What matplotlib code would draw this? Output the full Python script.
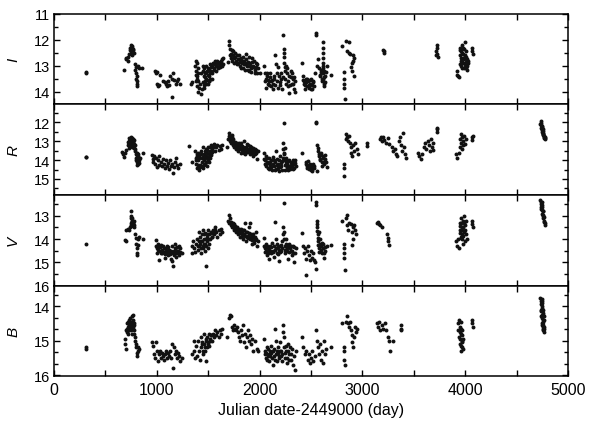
import numpy as np
import matplotlib
matplotlib.use("Agg")
import matplotlib.pyplot as plt
from matplotlib.ticker import MultipleLocator

plt.rcParams['font.family'] = ['Liberation Sans', 'DejaVu Sans']

# (JD-2449000, magnitude) pairs
I_data = [
    (310, 13.25), (315, 13.3),
    (683, 13.15), (700, 12.75), (705, 12.7), (715, 12.8), (720, 12.65), (730, 12.55), (735, 12.4), (740, 12.3),
    (745, 12.2), (750, 12.45), (755, 12.3), (760, 12.25), (765, 12.35), (770, 12.4), (775, 12.5), (760, 12.6), (748, 12.55),
    (790, 12.95), (795, 13.05), (800, 13.3), (800, 13.5), (805, 13.7), (805, 13.8), (810, 13.4), (812, 13.6), (790, 13.15),
    (820, 13.0), (830, 13.1), (855, 13.1),
    (985, 13.2), (990, 13.3), (1000, 13.25), (1005, 13.7), (1010, 13.8), (1020, 13.75), (1035, 13.35), (1060, 13.6),
    (1075, 13.65), (1090, 13.7), (1100, 13.8), (1110, 13.6), (1120, 13.75), (1125, 13.4), (1150, 14.2), (1145, 13.5),
    (1160, 13.3), (1170, 13.55), (1185, 13.7), (1200, 13.6), (1210, 13.5), (1225, 13.7),
    (1340, 13.65), (1330, 13.7), (1375, 13.0), (1380, 12.8), (1385, 13.2), (1390, 13.4), (1395, 13.5), (1400, 13.1),
    (1405, 13.6), (1410, 13.85), (1420, 13.7), (1425, 14.1), (1430, 13.3), (1440, 13.9), (1445, 13.0), (1450, 13.2),
    (1455, 13.4), (1460, 13.1), (1465, 13.6), (1470, 13.3), (1475, 13.0), (1480, 13.5), (1490, 13.2), (1495, 13.7),
    (1500, 13.1), (1505, 13.4), (1510, 13.6), (1515, 13.3), (1520, 12.95), (1525, 13.2), (1535, 13.5), (1540, 13.0),
    (1550, 12.9), (1560, 13.1), (1570, 12.8), (1580, 13.0), (1590, 12.9), (1600, 13.05), (1610, 12.85), (1620, 12.9),
    (1630, 12.75), (1640, 12.95), (1645, 12.7),
    (1448, 13.65), (1458, 13.75), (1468, 13.45), (1478, 13.25), (1488, 13.55), (1498, 13.35), (1508, 13.15),
    (1518, 13.5), (1528, 13.05), (1538, 13.3), (1463, 13.85), (1483, 13.7), (1503, 13.6),
    (1378, 13.35), (1382, 13.6), (1388, 13.8), (1392, 12.9), (1398, 14.0), (1402, 13.3),
    (1555, 13.15), (1565, 12.95), (1575, 13.2), (1585, 12.8), (1595, 13.1), (1605, 12.95), (1615, 13.05),
    (1625, 12.8), (1635, 13.0),
    (1690, 12.85), (1700, 12.05), (1705, 12.2), (1710, 12.6), (1720, 12.55), (1730, 12.4), (1740, 12.6), (1750, 12.7),
    (1760, 12.5), (1770, 12.8), (1780, 12.6), (1790, 12.9), (1800, 12.75), (1810, 13.0), (1820, 12.7), (1830, 12.9),
    (1840, 13.1), (1850, 12.8), (1860, 12.95), (1870, 12.55), (1880, 13.0), (1890, 12.85), (1900, 13.2), (1910, 12.9),
    (1920, 13.1), (1930, 12.7), (1940, 13.0), (1950, 13.15), (1960, 12.9), (1970, 13.3), (1985, 13.1), (2000, 13.3),
    (1715, 12.35), (1725, 12.7), (1735, 12.8), (1745, 12.45), (1755, 12.9), (1765, 12.65), (1775, 12.95),
    (1785, 12.75), (1795, 12.6), (1805, 12.85), (1815, 13.1), (1825, 12.8), (1835, 12.65), (1845, 12.95),
    (1855, 13.15), (1865, 12.75), (1875, 12.9), (1885, 13.15), (1895, 12.65), (1905, 13.0), (1915, 13.25),
    (1925, 12.85), (1935, 13.05), (1945, 12.8), (1955, 13.3), (1965, 13.05), (1975, 12.95),
    (2040, 13.0), (2050, 13.3), (2060, 13.5), (2070, 13.4), (2080, 13.7), (2090, 13.6), (2100, 13.45), (2110, 13.8),
    (2120, 13.55), (2130, 13.7), (2140, 13.4), (2150, 12.6), (2160, 12.95), (2165, 13.3), (2170, 13.6), (2175, 13.05),
    (2180, 13.85), (2190, 13.4), (2200, 13.65), (2210, 13.5), (2230, 11.8), (2232, 12.35), (2235, 12.5), (2240, 12.9),
    (2245, 13.2), (2250, 13.5), (2255, 13.0), (2260, 13.7), (2265, 13.3), (2270, 13.1), (2280, 13.6), (2285, 14.05),
    (2290, 13.4), (2300, 13.2), (2310, 13.7), (2320, 13.5), (2330, 13.9), (2340, 13.6), (2345, 14.0),
    (2055, 13.6), (2065, 13.85), (2075, 13.3), (2085, 13.55), (2095, 13.75), (2105, 13.3), (2115, 13.6),
    (2125, 13.9), (2135, 13.5), (2145, 13.75), (2195, 13.75), (2205, 13.3), (2215, 13.9), (2225, 13.45),
    (2275, 13.8), (2295, 13.75), (2305, 13.45), (2315, 13.3), (2325, 13.7), (2335, 13.45), (2238, 12.65), (2242, 13.05),
    (2415, 12.9), (2420, 13.4), (2430, 13.6), (2440, 13.75), (2450, 13.5), (2460, 13.8), (2470, 13.6), (2480, 13.85),
    (2490, 13.7), (2500, 13.5), (2510, 13.9), (2520, 13.65), (2540, 13.3), (2545, 11.75), (2550, 11.8), (2560, 13.0),
    (2570, 12.75), (2580, 13.1), (2590, 13.4), (2600, 13.25), (2610, 13.6), (2615, 12.1), (2615, 12.3), (2615, 12.5),
    (2615, 12.7), (2618, 12.9), (2620, 13.1), (2620, 13.3), (2620, 13.5), (2622, 13.7), (2625, 13.8), (2630, 13.2),
    (2640, 13.4), (2650, 13.0), (2690, 13.35),
    (2425, 13.55), (2435, 13.7), (2445, 13.9), (2455, 13.65), (2465, 13.5), (2475, 13.75), (2485, 13.55),
    (2495, 13.9), (2505, 13.75), (2515, 13.6), (2525, 13.8),
    (2585, 13.35), (2595, 13.15), (2605, 13.5), (2612, 13.0), (2628, 13.45), (2635, 13.65), (2645, 13.25),
    (2800, 12.25), (2825, 13.25), (2825, 13.5), (2825, 13.7), (2825, 13.85), (2828, 14.3), (2835, 12.05), (2850, 12.45),
    (2865, 12.1), (2870, 12.5), (2880, 12.55), (2885, 13.05), (2895, 13.2), (2900, 12.9), (2905, 12.6), (2910, 12.8),
    (2915, 13.4), (2920, 12.7),
    (3200, 12.4), (3205, 12.5), (3210, 12.45),
    (3710, 12.6), (3715, 12.45), (3720, 12.3), (3725, 12.2), (3728, 12.55), (3732, 12.65),
    (3915, 13.2), (3920, 13.35), (3930, 13.4), (3940, 13.45), (3945, 12.4), (3950, 12.6), (3955, 12.8), (3960, 13.0),
    (3965, 12.5), (3970, 12.2), (3975, 12.7), (3980, 12.9), (3985, 13.1), (3990, 12.35), (3995, 12.1), (4000, 12.6),
    (4005, 12.85), (4010, 13.1), (4015, 12.75), (4020, 13.0), (4025, 12.9), (4060, 12.3), (4065, 12.45), (4070, 12.55),
    (3948, 12.3), (3952, 12.95), (3958, 12.45), (3962, 12.7), (3968, 13.1), (3972, 12.85), (3978, 12.3),
    (3982, 12.55), (3988, 12.75), (3992, 13.05), (3998, 12.95), (4002, 12.45), (4008, 12.65), (4012, 12.95),
    (4018, 13.15), (4022, 12.8),
]

R_data = [
    (312, 13.82), (316, 13.85),
    (665, 13.55), (675, 13.7), (685, 13.85), (695, 13.6), (705, 13.45), (720, 13.2), (725, 13.0), (730, 13.35),
    (735, 12.9), (740, 13.1), (745, 12.8), (750, 13.0), (755, 13.2), (760, 12.85), (765, 13.05), (770, 13.3),
    (775, 12.95), (780, 13.15), (785, 13.4), (790, 13.5), (795, 13.7), (800, 13.9), (805, 14.1), (810, 13.6),
    (815, 14.2), (820, 13.8), (825, 14.0), (835, 13.9), (865, 13.6),
    (722, 13.05), (728, 12.85), (732, 13.1), (738, 13.25), (742, 12.95), (748, 13.15), (752, 12.85), (758, 13.05),
    (762, 13.3), (768, 13.1), (772, 12.9), (778, 13.35), (783, 13.2),
    (798, 14.0), (803, 13.75), (808, 14.25), (812, 13.9), (818, 13.65), (822, 14.15),
    (955, 13.75), (960, 13.95), (965, 14.1), (975, 13.8), (985, 14.2), (990, 13.9), (1000, 14.35), (1010, 14.0),
    (1020, 13.8), (1025, 14.25), (1040, 14.1), (1050, 14.3), (1060, 13.95), (1070, 14.2), (1080, 14.4), (1090, 14.0),
    (1100, 14.3), (1110, 14.15), (1120, 14.45), (1130, 14.0), (1140, 14.3), (1150, 14.2), (1160, 14.7), (1170, 14.35),
    (1180, 14.1), (1190, 13.9), (1200, 14.25), (1210, 14.4), (1225, 14.2),
    (1310, 13.25), (1340, 14.1), (1375, 13.5), (1380, 13.9), (1385, 14.2), (1390, 13.7), (1395, 14.4), (1400, 13.6),
    (1405, 14.0), (1410, 14.55), (1415, 13.8), (1420, 14.25), (1430, 13.5), (1435, 14.1), (1440, 13.9), (1445, 14.4),
    (1450, 13.3), (1455, 13.7), (1460, 14.0), (1465, 13.5), (1470, 14.2), (1475, 13.8), (1480, 13.4), (1485, 14.3),
    (1490, 13.6), (1495, 13.9), (1500, 13.3), (1505, 14.1), (1510, 13.7), (1515, 13.5), (1520, 13.9), (1525, 13.2),
    (1530, 13.6), (1540, 13.4), (1550, 13.3), (1560, 13.15), (1570, 13.5), (1580, 13.3), (1590, 13.2), (1600, 13.45),
    (1610, 13.25), (1620, 13.4), (1630, 13.2),
    (1378, 14.0), (1388, 13.8), (1398, 14.25), (1408, 13.9), (1418, 14.35), (1428, 13.7), (1438, 14.3),
    (1448, 13.85), (1458, 14.25), (1468, 13.9), (1478, 14.1), (1488, 13.45), (1498, 14.0), (1508, 13.85),
    (1518, 13.3), (1528, 13.75), (1538, 13.55),
    (1680, 13.3), (1695, 12.9), (1700, 12.7), (1705, 12.55), (1710, 13.0), (1715, 12.75), (1720, 13.1), (1725, 12.85),
    (1730, 12.65), (1735, 13.0), (1740, 13.2), (1745, 12.9), (1750, 13.3), (1760, 13.05), (1770, 13.4), (1780, 13.2),
    (1790, 13.5), (1800, 13.1), (1810, 13.35), (1820, 13.6), (1830, 13.25), (1840, 13.45), (1850, 13.0), (1860, 13.7),
    (1870, 13.3), (1880, 13.55), (1890, 13.2), (1900, 13.4), (1910, 13.65), (1920, 13.3), (1930, 13.5), (1940, 13.8),
    (1950, 13.4), (1960, 13.6), (1970, 13.95), (1980, 13.5),
    (1712, 12.85), (1722, 12.95), (1732, 12.8), (1742, 13.05), (1755, 13.15), (1765, 13.25), (1775, 13.1),
    (1785, 13.3), (1795, 13.4), (1805, 13.25), (1815, 13.1), (1825, 13.45), (1835, 13.3), (1845, 13.6),
    (1855, 13.35), (1865, 13.5), (1875, 13.15), (1885, 13.4), (1895, 13.55), (1905, 13.25), (1915, 13.45),
    (1925, 13.6), (1935, 13.35), (1945, 13.55), (1955, 13.7), (1965, 13.45),
    (2040, 13.6), (2045, 13.95), (2050, 14.2), (2060, 13.8), (2070, 14.1), (2080, 14.4), (2090, 13.9), (2100, 14.25),
    (2110, 14.0), (2120, 14.5), (2130, 13.85), (2140, 14.3), (2150, 14.1), (2155, 13.5), (2160, 14.45), (2170, 13.95),
    (2180, 14.2), (2190, 14.6), (2200, 13.8), (2210, 14.3), (2220, 14.05), (2225, 13.4), (2230, 13.1), (2235, 13.7),
    (2240, 12.05), (2245, 14.0), (2250, 14.5), (2260, 13.9), (2270, 14.2), (2280, 14.55), (2290, 14.0), (2300, 14.3),
    (2310, 14.1), (2320, 14.45), (2330, 14.2), (2340, 14.0), (2350, 14.3),
    (2055, 14.0), (2065, 14.3), (2075, 13.9), (2085, 14.15), (2095, 14.45), (2105, 14.1), (2115, 14.35),
    (2125, 14.2), (2135, 14.0), (2145, 14.5), (2165, 14.25), (2175, 14.4), (2185, 14.0), (2195, 14.35),
    (2205, 14.15), (2215, 14.5), (2228, 13.9), (2238, 13.6), (2242, 13.35), (2248, 14.25), (2255, 14.1),
    (2265, 14.35), (2275, 14.05), (2285, 14.3), (2295, 14.45), (2305, 14.15), (2315, 14.3), (2325, 14.0),
    (2335, 14.4), (2345, 14.15),
    (2415, 13.6), (2450, 14.1), (2460, 14.3), (2470, 14.05), (2480, 14.45), (2490, 14.2), (2500, 14.3), (2510, 14.6),
    (2520, 14.2), (2530, 14.4), (2545, 12.05), (2550, 12.0), (2555, 14.6), (2560, 13.2), (2570, 13.5), (2580, 13.8),
    (2590, 14.0), (2600, 13.6), (2610, 14.3), (2620, 13.9), (2630, 14.1), (2640, 13.75), (2650, 14.35),
    (2455, 14.2), (2465, 14.4), (2475, 14.25), (2485, 14.3), (2495, 14.5), (2505, 14.35), (2515, 14.4),
    (2525, 14.3), (2565, 13.35), (2575, 13.65), (2585, 13.95), (2595, 13.75), (2605, 14.1), (2615, 13.8),
    (2625, 14.2), (2635, 13.95), (2645, 14.1),
    (2820, 14.85), (2825, 14.2), (2825, 14.4), (2835, 12.9), (2840, 12.6), (2850, 12.8), (2860, 13.0), (2870, 12.7),
    (2880, 13.1), (2885, 13.3), (2890, 13.6), (2900, 13.8), (2910, 13.2), (2920, 13.5), (2930, 13.1), (2945, 13.4),
    (2955, 13.7), (3040, 13.1), (3045, 13.25),
    (3170, 12.9), (3180, 12.75), (3190, 13.0), (3200, 12.8), (3210, 12.95), (3230, 13.1), (3245, 12.85), (3255, 13.15),
    (3290, 13.3), (3300, 13.5), (3315, 13.4), (3330, 13.7), (3340, 13.8), (3355, 13.0), (3365, 12.8), (3375, 13.2),
    (3385, 13.5), (3390, 12.55), (3400, 13.3), (3410, 13.7), (3420, 13.9),
    (3540, 13.6), (3550, 13.8), (3565, 13.95), (3580, 13.7), (3595, 13.3), (3605, 13.1), (3620, 13.4), (3635, 13.0),
    (3645, 13.2), (3655, 13.5), (3665, 12.9), (3675, 13.3), (3685, 13.1), (3690, 13.45), (3720, 12.35), (3725, 12.5),
    (3728, 12.3),
    (3910, 13.7), (3920, 13.9), (3935, 13.6), (3945, 13.3), (3950, 12.9), (3955, 13.1), (3960, 12.6), (3965, 13.4),
    (3970, 12.8), (3975, 13.2), (3980, 13.0), (3990, 12.7), (4000, 13.15), (4010, 12.9), (4060, 12.8), (4065, 12.95),
    (4070, 12.7),
    (4730, 12.1), (4735, 11.95), (4740, 12.3), (4745, 12.2), (4748, 12.5), (4750, 12.4), (4755, 12.65), (4760, 12.6),
    (4765, 12.8), (4770, 12.75), (4775, 12.9), (4738, 12.15), (4752, 12.35), (4758, 12.55), (4768, 12.85),
    (4733, 12.05), (4743, 12.25), (4753, 12.45), (4763, 12.7), (4773, 12.85), (4747, 12.35), (4757, 12.6),
]

V_data = [
    (312, 14.2),
    (690, 14.05), (700, 14.1), (705, 13.6), (715, 13.55), (725, 13.6), (735, 13.5), (745, 13.3), (748, 12.8),
    (750, 13.0), (755, 13.2), (760, 13.35), (765, 13.25), (770, 13.45), (775, 13.2), (780, 13.5), (790, 13.8),
    (795, 13.95), (800, 14.2), (805, 14.4), (810, 14.6), (812, 14.7), (815, 14.0), (820, 14.25), (830, 13.9), (865, 14.0),
    (748, 13.1), (752, 13.4), (758, 13.2), (762, 13.1), (768, 13.35), (772, 13.3), (778, 13.4),
    (990, 14.05), (995, 14.3), (1000, 14.6), (1010, 14.2), (1015, 14.45), (1020, 14.9), (1025, 14.3), (1035, 14.5),
    (1045, 14.25), (1055, 14.6), (1065, 14.4), (1075, 14.8), (1085, 14.5), (1095, 14.3), (1105, 14.7), (1115, 14.45),
    (1125, 14.6), (1135, 14.85), (1145, 14.3), (1150, 14.95), (1160, 15.15), (1165, 14.7), (1170, 14.5), (1180, 14.2),
    (1190, 14.6), (1200, 14.35), (1210, 14.5), (1220, 14.7), (1230, 14.4), (1240, 14.6),
    (1005, 14.4), (1030, 14.35), (1040, 14.6), (1050, 14.45), (1060, 14.3), (1070, 14.55), (1080, 14.65),
    (1090, 14.4), (1100, 14.55), (1110, 14.35), (1120, 14.5), (1130, 14.65), (1140, 14.5), (1155, 14.6),
    (1175, 14.4), (1185, 14.75), (1195, 14.5), (1205, 14.6), (1215, 14.3), (1225, 14.55),
    (1340, 14.6), (1345, 14.3), (1355, 14.1), (1365, 14.4), (1375, 14.55), (1385, 14.2), (1395, 14.0), (1405, 14.45),
    (1410, 13.7), (1415, 14.3), (1420, 13.9), (1425, 14.6), (1430, 14.1), (1440, 13.8), (1445, 14.4), (1450, 13.6),
    (1455, 14.2), (1460, 14.0), (1465, 14.5), (1470, 13.75), (1475, 15.15), (1480, 14.3), (1485, 13.9), (1490, 14.1),
    (1495, 13.6), (1500, 14.4), (1510, 13.8), (1520, 14.0), (1530, 13.7), (1540, 13.9), (1550, 13.6), (1560, 13.8),
    (1570, 13.5), (1580, 13.7), (1590, 13.9), (1600, 13.6), (1610, 13.8), (1620, 13.55), (1630, 13.7),
    (1402, 14.3), (1412, 14.1), (1422, 14.2), (1432, 14.4), (1442, 14.1), (1452, 14.3), (1462, 13.8),
    (1472, 14.2), (1482, 14.0), (1492, 13.8), (1502, 14.0), (1512, 14.2), (1522, 13.75), (1532, 13.9),
    (1542, 13.75), (1555, 13.7), (1565, 13.6),
    (1695, 13.2), (1700, 12.95), (1705, 13.3), (1710, 13.1), (1720, 13.4), (1725, 13.25), (1730, 13.5), (1740, 13.3),
    (1750, 13.6), (1760, 13.45), (1770, 13.7), (1780, 13.5), (1790, 13.8), (1800, 13.6), (1810, 13.9), (1820, 13.55),
    (1830, 13.75), (1840, 14.0), (1850, 13.6), (1855, 13.3), (1860, 13.85), (1870, 14.1), (1880, 13.7), (1890, 13.95),
    (1900, 13.5), (1905, 13.3), (1910, 14.0), (1920, 13.8), (1930, 14.2), (1940, 13.9), (1950, 14.05), (1960, 13.7),
    (1970, 14.3), (1980, 14.1),
    (1715, 13.25), (1735, 13.4), (1745, 13.5), (1755, 13.35), (1765, 13.55), (1775, 13.6), (1785, 13.65),
    (1795, 13.55), (1805, 13.75), (1815, 13.65), (1825, 13.85), (1835, 13.6), (1845, 13.8), (1865, 13.7),
    (1875, 13.9), (1885, 13.85), (1895, 13.75), (1915, 13.9), (1925, 14.05), (1935, 13.8), (1945, 14.15),
    (1955, 13.9), (1965, 14.0),
    (2040, 13.95), (2045, 14.3), (2050, 14.55), (2060, 14.2), (2070, 14.7), (2080, 14.4), (2090, 14.85), (2100, 14.3),
    (2110, 14.6), (2120, 14.15), (2130, 14.5), (2140, 14.75), (2150, 13.25), (2155, 14.0), (2160, 14.4), (2170, 14.2),
    (2180, 14.65), (2190, 14.95), (2200, 14.3), (2210, 14.5), (2220, 14.1), (2225, 13.5), (2230, 13.8), (2240, 12.45),
    (2245, 14.3), (2250, 14.6), (2260, 14.0), (2270, 14.4), (2280, 14.85), (2290, 14.2), (2300, 14.5), (2310, 14.7),
    (2320, 14.3), (2330, 15.0), (2340, 14.6), (2350, 14.4),
    (2055, 14.4), (2065, 14.5), (2075, 14.3), (2085, 14.6), (2095, 14.45), (2105, 14.5), (2115, 14.35),
    (2125, 14.55), (2135, 14.3), (2145, 14.45), (2165, 14.6), (2175, 14.35), (2185, 14.45), (2195, 14.55),
    (2205, 14.25), (2215, 14.4), (2235, 13.7), (2238, 14.0), (2248, 14.45), (2255, 14.2), (2265, 14.5),
    (2275, 14.3), (2285, 14.55), (2295, 14.4), (2305, 14.3), (2315, 14.5), (2325, 14.6), (2335, 14.35),
    (2415, 13.75), (2420, 14.3), (2430, 14.6), (2440, 14.4), (2450, 14.85), (2455, 15.55), (2460, 14.5), (2470, 14.3),
    (2480, 14.7), (2490, 14.9), (2500, 14.5), (2510, 14.8), (2520, 14.6), (2530, 14.9), (2540, 15.0), (2545, 12.4),
    (2548, 12.55), (2550, 15.3), (2555, 13.2), (2560, 13.5), (2565, 13.8), (2570, 14.1), (2575, 14.4), (2580, 13.7),
    (2590, 14.0), (2600, 14.3), (2610, 14.6), (2620, 14.2), (2630, 14.8), (2640, 14.5), (2650, 14.3), (2690, 14.25),
    (2558, 13.35), (2562, 13.65), (2568, 13.95), (2572, 14.25), (2578, 14.55), (2585, 14.2), (2595, 14.45),
    (2605, 14.15), (2615, 14.4), (2625, 14.6), (2635, 14.35),
    (2800, 13.2), (2825, 14.2), (2825, 14.4), (2825, 14.6), (2825, 14.8), (2828, 15.35), (2835, 13.1), (2845, 12.95),
    (2850, 13.4), (2860, 13.6), (2870, 13.3), (2885, 13.35), (2895, 13.7), (2900, 14.25), (2905, 14.0), (2910, 13.5),
    (2920, 13.4), (2930, 13.6), (2940, 13.8),
    (3140, 13.3), (3150, 13.25), (3160, 13.35), (3175, 13.4), (3185, 13.5), (3240, 13.8), (3245, 13.95), (3250, 14.1),
    (3255, 14.25),
    (3910, 14.1), (3915, 14.3), (3925, 14.0), (3935, 14.4), (3945, 13.6), (3950, 13.3), (3955, 13.9), (3960, 13.1),
    (3965, 13.5), (3970, 13.8), (3975, 13.2), (3980, 14.2), (3985, 13.7), (3990, 13.0), (3995, 14.1), (4000, 13.4),
    (4010, 13.8), (4015, 14.0), (4060, 13.2), (4065, 13.35), (4070, 13.5),
    (3948, 13.45), (3952, 13.75), (3958, 13.95), (3962, 13.3), (3968, 13.6), (3972, 14.0), (3978, 13.5),
    (3982, 13.85), (3988, 13.3), (3998, 13.6), (4005, 13.2),
    (4730, 12.3), (4735, 12.5), (4740, 12.7), (4742, 12.4), (4745, 12.9), (4750, 12.6), (4752, 13.0), (4755, 12.8),
    (4760, 13.1), (4765, 13.2), (4770, 13.3), (4775, 13.4), (4748, 12.75), (4758, 12.95),
    (4733, 12.4), (4738, 12.6), (4743, 12.55), (4753, 12.8), (4763, 13.05), (4768, 13.25),
]

B_data = [
    (312, 15.2), (315, 15.25),
    (690, 14.95), (695, 15.1), (700, 15.25), (705, 14.7), (710, 14.5), (715, 14.8), (720, 14.6), (725, 14.4),
    (730, 14.7), (735, 14.55), (740, 14.35), (745, 14.6), (750, 14.45), (755, 14.8), (760, 14.3), (765, 14.65),
    (770, 14.25), (775, 14.5), (780, 14.7), (785, 14.9), (790, 15.0), (795, 15.2), (800, 15.1), (805, 15.35),
    (810, 15.45), (815, 15.2), (820, 15.3), (830, 15.25),
    (708, 14.65), (712, 14.75), (718, 14.45), (722, 14.7), (728, 14.55), (732, 14.45), (738, 14.65), (742, 14.5),
    (748, 14.7), (752, 14.55), (758, 14.45), (762, 14.6), (768, 14.4), (772, 14.6), (778, 14.55), (782, 14.8),
    (955, 15.05), (965, 15.15), (975, 15.4), (985, 15.5), (990, 15.05), (1000, 15.3), (1010, 15.6), (1020, 15.4),
    (1030, 15.3), (1040, 15.5), (1050, 15.35), (1060, 15.45), (1070, 15.55), (1080, 15.4), (1090, 15.3), (1100, 15.5),
    (1110, 15.35), (1120, 15.45), (1130, 15.3), (1140, 15.5), (1150, 15.1), (1160, 15.8), (1170, 15.2), (1180, 15.4),
    (1190, 15.3), (1200, 15.5), (1210, 15.35), (1220, 15.45), (1230, 15.6), (1240, 15.5),
    (1340, 15.4), (1360, 15.0), (1365, 15.3), (1375, 15.5), (1385, 15.15), (1395, 15.45), (1400, 15.0), (1410, 15.3),
    (1420, 15.55), (1425, 14.9), (1430, 15.2), (1440, 15.05), (1450, 15.4), (1455, 14.8), (1460, 15.1), (1470, 15.3),
    (1475, 15.0), (1480, 15.6), (1485, 14.9), (1490, 15.2), (1500, 15.05), (1505, 14.8), (1510, 15.15), (1520, 14.95),
    (1530, 14.85), (1540, 15.0), (1550, 14.8), (1560, 14.9), (1570, 14.7), (1580, 14.85), (1590, 14.75), (1600, 14.9),
    (1610, 14.7), (1620, 14.8), (1630, 14.65),
    (1435, 15.1), (1445, 15.3), (1465, 15.2), (1478, 14.95), (1495, 15.1), (1515, 15.0), (1525, 14.85),
    (1680, 14.9), (1700, 14.35), (1710, 14.25), (1720, 14.3), (1730, 14.6), (1740, 14.7), (1750, 14.55), (1760, 14.65),
    (1770, 14.7), (1780, 14.6), (1790, 14.75), (1800, 14.9), (1810, 15.0), (1820, 14.7), (1830, 14.85), (1840, 14.55),
    (1850, 15.05), (1860, 14.8), (1870, 15.2), (1880, 14.9), (1890, 14.7), (1900, 15.0), (1910, 14.85), (1920, 15.1),
    (1930, 14.95), (1940, 15.3), (1950, 15.0), (1970, 15.25), (1980, 15.3),
    (2040, 14.95), (2050, 15.3), (2060, 15.5), (2070, 15.2), (2080, 15.45), (2090, 15.6), (2100, 15.3), (2110, 15.15),
    (2120, 15.5), (2130, 15.7), (2140, 15.25), (2150, 14.65), (2155, 15.0), (2160, 15.4), (2170, 15.6), (2180, 15.2),
    (2190, 15.45), (2200, 15.05), (2210, 15.3), (2220, 15.6), (2225, 14.75), (2230, 14.55), (2235, 14.9), (2240, 15.2),
    (2250, 15.5), (2260, 15.3), (2270, 15.65), (2280, 15.1), (2290, 15.4), (2300, 15.55), (2310, 15.25), (2320, 15.7),
    (2330, 15.45), (2340, 15.85), (2350, 15.3),
    (2055, 15.4), (2065, 15.35), (2075, 15.55), (2085, 15.25), (2095, 15.4), (2105, 15.45), (2115, 15.35),
    (2125, 15.3), (2135, 15.45), (2145, 15.55), (2165, 15.3), (2175, 15.35), (2185, 15.5), (2195, 15.3),
    (2205, 15.45), (2215, 15.4), (2245, 15.35), (2255, 15.15), (2265, 15.5), (2275, 15.3), (2285, 15.55),
    (2295, 15.2), (2305, 15.4),
    (2415, 14.9), (2425, 15.2), (2440, 15.4), (2455, 15.3), (2470, 15.55), (2480, 15.4), (2490, 15.65), (2500, 15.5),
    (2510, 15.3), (2520, 15.6), (2535, 15.45), (2550, 14.7), (2555, 15.0), (2565, 15.2), (2575, 15.4), (2585, 15.1),
    (2595, 15.55), (2605, 15.3), (2615, 15.65), (2625, 15.0), (2635, 15.4), (2645, 15.25), (2690, 15.2),
    (2800, 14.5), (2825, 15.2), (2825, 15.3), (2825, 15.55), (2828, 15.7), (2835, 14.45), (2845, 14.3), (2855, 14.5),
    (2865, 14.6), (2875, 14.45), (2885, 14.7), (2895, 14.85), (2900, 15.05), (2905, 15.2), (2915, 14.9), (2925, 14.6),
    (2935, 14.75), (2945, 14.65),
    (3140, 14.5), (3150, 14.6), (3160, 14.45), (3170, 14.7), (3185, 14.55), (3200, 14.65), (3215, 14.5), (3230, 14.7),
    (3245, 14.9), (3255, 15.0), (3265, 15.3), (3300, 15.0), (3370, 14.55), (3372, 14.65), (3375, 14.7),
    (3925, 14.5), (3930, 14.7), (3935, 14.4), (3940, 14.9), (3945, 14.6), (3950, 15.1), (3955, 14.8), (3960, 15.3),
    (3965, 15.0), (3970, 15.2), (3975, 14.95), (3960, 14.45), (3970, 14.7), (4060, 14.4), (4065, 14.5), (4070, 14.6),
    (3948, 14.75), (3952, 14.95), (3958, 15.15), (3962, 14.65), (3968, 14.85), (3972, 15.05), (3978, 15.25),
    (4730, 13.75), (4735, 13.95), (4740, 14.15), (4742, 13.85), (4745, 14.35), (4748, 14.05), (4750, 14.55),
    (4752, 14.25), (4755, 14.7), (4758, 14.45), (4760, 14.6), (4765, 14.75), (4738, 14.3), (4745, 14.0), (4755, 14.2),
    (4762, 14.4), (4768, 14.65), (4750, 13.8),
    (4733, 13.85), (4737, 14.1), (4743, 14.25), (4747, 14.5), (4753, 14.4), (4757, 14.55), (4763, 14.3),
    (4747, 13.9), (4757, 14.1), (4763, 14.6), (4753, 14.65),
]

bands = ['I', 'R', 'V', 'B']
datasets = [I_data, R_data, V_data, B_data]
ylims = [(14.5, 11.0), (15.85, 11.05), (16.0, 12.1), (16.03, 13.4)]
minor_steps = [0.5, 0.5, 0.5, 1 / 3]

fig, axes = plt.subplots(4, 1, sharex=True, figsize=(5.9, 4.27), dpi=100)
fig.subplots_adjust(left=0.0915, right=0.963, top=0.965, bottom=0.117, hspace=0)

for ax, band, data, yl, mstep in zip(axes, bands, datasets, ylims, minor_steps):
    d = np.array(data)
    ax.scatter(d[:, 0], d[:, 1], s=8, c='#111111', linewidths=0)
    ax.set_ylim(*yl)
    ax.set_xlim(0, 5000)
    ax.yaxis.set_major_locator(MultipleLocator(1))
    ax.yaxis.set_minor_locator(MultipleLocator(mstep))
    ax.xaxis.set_major_locator(MultipleLocator(1000))
    ax.xaxis.set_minor_locator(MultipleLocator(500))
    ax.tick_params(which='both', direction='in', top=True, right=True, width=1)
    ax.tick_params(which='major', length=4, labelsize=10.5, pad=3)
    ax.tick_params(which='minor', length=3)
    ax.tick_params(axis='x', which='minor', length=4)
    for sp in ax.spines.values():
        sp.set_linewidth(1.1)
    ax.set_ylabel(band, fontstyle='italic', fontsize=11)
    ax.yaxis.set_label_coords(-0.066, 0.5)

axes[-1].tick_params(axis='x', labelsize=11.5, pad=4)
axes[-1].set_xlabel('Julian date-2449000 (day)', fontsize=11.5)

fig.savefig('out.png', dpi=100)
